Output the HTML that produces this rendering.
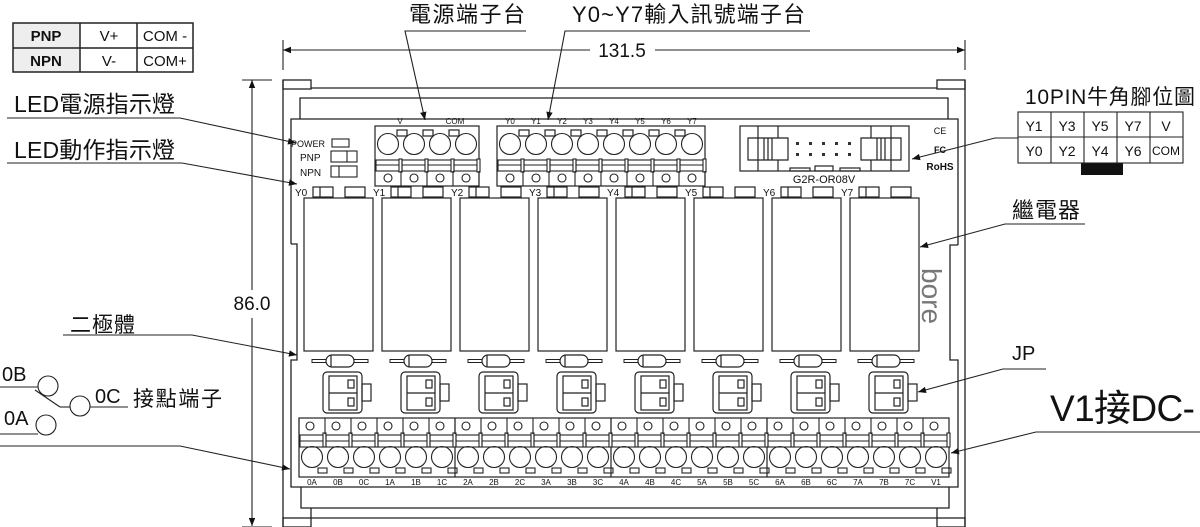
<!DOCTYPE html>
<html><head><meta charset="utf-8"><style>
html,body{margin:0;padding:0;background:#fff;}
svg{display:block;}
text{font-family:"Liberation Sans","Noto Sans CJK TC",sans-serif;fill:#111;}
</style></head><body>
<svg width="1200" height="527" viewBox="0 0 1200 527" xmlns="http://www.w3.org/2000/svg">
<defs>
<marker id="ar" viewBox="0 0 10 10" refX="10" refY="5" markerWidth="14" markerHeight="8" markerUnits="userSpaceOnUse" orient="auto"><path d="M0,1 L10,5 L0,9 z" fill="#111"/></marker>
<g id="col" fill="none" stroke="#222" stroke-width="1.2">
 <rect x="313" y="187" width="20" height="10"/><line x1="320" y1="187" x2="320" y2="197"/>
 <rect x="345" y="187" width="20" height="10"/>
 <rect x="304" y="198" width="69" height="153"/>
 <rect x="312" y="359.5" width="14" height="3" stroke-width="1"/>
 <rect x="354" y="359.5" width="14" height="3" stroke-width="1"/>
 <rect x="326" y="355" width="28" height="12" rx="6" fill="#fff"/>
 <line x1="331" y1="355" x2="331" y2="367"/>
 <rect x="323" y="372" width="39" height="41" rx="4"/>
 <rect x="329" y="376" width="28" height="34"/>
 <line x1="329" y1="393" x2="357" y2="393"/>
 <rect x="348" y="380" width="6" height="8"/><rect x="348" y="398" width="6" height="8"/>
 <rect x="362" y="384" width="9" height="17"/>
</g>
<g id="bc" fill="none" stroke="#222" stroke-width="1.1">
 <line x1="299" y1="418" x2="299" y2="434"/>
 <circle cx="310" cy="426" r="4"/>
 <rect x="300" y="435" width="24" height="12"/><line x1="300" y1="441" x2="324" y2="441"/>
 <rect x="323" y="433" width="3" height="14" fill="#fff"/>
 <circle cx="312" cy="457" r="10.5"/>
 <rect x="318" y="468" width="9" height="5"/>
</g>
<g id="tc" fill="none" stroke="#222" stroke-width="1.1">
 <circle cx="388" cy="144" r="10.5"/>
 <rect x="376" y="160" width="24" height="11"/><line x1="376" y1="165" x2="400" y2="165"/>
 <rect x="399" y="159" width="3" height="13" fill="#fff"/>
 <circle cx="388" cy="178" r="4"/>
 <line x1="401" y1="171" x2="401" y2="186"/>
</g>
</defs>

<!-- top-left table -->
<rect x="13" y="23" width="67" height="49" fill="#eee"/>
<g fill="none" stroke="#222" stroke-width="1.5">
<rect x="13" y="23" width="180" height="49"/>
<line x1="13" y1="48" x2="193" y2="48"/><line x1="80" y1="23" x2="80" y2="72"/><line x1="137" y1="23" x2="137" y2="72"/>
</g>
<g font-size="15">
<text x="46" y="41" text-anchor="middle" font-weight="bold">PNP</text>
<text x="46" y="66" text-anchor="middle" font-weight="bold">NPN</text>
<text x="109" y="41" text-anchor="middle">V+</text>
<text x="109" y="66" text-anchor="middle">V-</text>
<text x="165" y="41" text-anchor="middle">COM -</text>
<text x="165" y="66" text-anchor="middle">COM+</text>
</g>

<!-- dimensions -->
<g stroke="#222" stroke-width="1.1" fill="none">
<line x1="283" y1="40" x2="283" y2="70"/><line x1="965" y1="40" x2="965" y2="70"/>
<line x1="590" y1="50" x2="283" y2="50" marker-end="url(#ar)"/>
<line x1="655" y1="50" x2="965" y2="50" marker-end="url(#ar)"/>
<line x1="242" y1="80" x2="272" y2="80"/><line x1="242" y1="527" x2="272" y2="527"/>
<line x1="252" y1="290" x2="252" y2="80" marker-end="url(#ar)"/>
<line x1="252" y1="318" x2="252" y2="526" marker-end="url(#ar)"/>
</g>
<text x="622" y="57" font-size="19" text-anchor="middle">131.5</text>
<text x="252" y="310" font-size="19" text-anchor="middle">86.0</text>

<!-- housing -->
<g fill="none" stroke="#222" stroke-width="1.3">
<line x1="283" y1="80" x2="283" y2="527"/><line x1="965" y1="80" x2="965" y2="527"/>
<rect x="283" y="80" width="28" height="9"/><rect x="937" y="80" width="28" height="9"/>
<line x1="311" y1="88" x2="937" y2="88"/>
<polyline points="300,119 300,98 948,98 948,119"/>
<polyline points="291,244 291,119 958,119 958,245"/>
<polyline points="291,244 297,244 297,360 291,360 291,487 958,487 958,360 950,360 950,245 958,245"/>
<polyline points="301,487 301,508 949,508 949,487"/>
<polyline points="311,508 311,518 937,518 937,508"/>
<rect x="283" y="518" width="28" height="9"/><rect x="937" y="518" width="28" height="9"/>
</g>

<!-- indicator labels -->
<g font-size="10">
<text x="291" y="147" font-size="9">POWER</text>
<text x="300" y="161">PNP</text>
<text x="300" y="176">NPN</text>
</g>
<g fill="none" stroke="#222" stroke-width="1.1">
<rect x="332" y="139" width="17" height="8"/>
<rect x="331" y="151" width="26" height="11"/><line x1="347" y1="151" x2="347" y2="162"/>
<rect x="331" y="166" width="26" height="11"/><line x1="339" y1="166" x2="339" y2="177"/>
</g>

<!-- top terminal blocks -->
<g fill="none" stroke="#222" stroke-width="1.2">
<rect x="375" y="126" width="104" height="60"/>
<rect x="497" y="126" width="208" height="60"/>
<rect x="397" y="130" width="10" height="6"/><rect x="423" y="130" width="10" height="6"/><rect x="449" y="130" width="10" height="6"/>
<rect x="519" y="130" width="10" height="6"/><rect x="545" y="130" width="10" height="6"/><rect x="571" y="130" width="10" height="6"/><rect x="597" y="130" width="10" height="6"/><rect x="623" y="130" width="10" height="6"/><rect x="649" y="130" width="10" height="6"/><rect x="675" y="130" width="10" height="6"/>
</g>
<use href="#tc"/><use href="#tc" x="26"/><use href="#tc" x="52"/><use href="#tc" x="78"/>
<use href="#tc" x="122"/><use href="#tc" x="148"/><use href="#tc" x="174"/><use href="#tc" x="200"/><use href="#tc" x="226"/><use href="#tc" x="252"/><use href="#tc" x="278"/><use href="#tc" x="304"/>
<g font-size="8" text-anchor="middle">
<text x="400" y="124">V</text><text x="455" y="124">COM</text>
<text x="510" y="124">Y0</text><text x="536" y="124">Y1</text><text x="562" y="124">Y2</text><text x="588" y="124">Y3</text><text x="614" y="124">Y4</text><text x="640" y="124">Y5</text><text x="666" y="124">Y6</text><text x="692" y="124">Y7</text>
</g>

<!-- IDC connector -->
<g fill="none" stroke="#222" stroke-width="1.2">
<rect x="740" y="126" width="169" height="45"/>
<line x1="758" y1="126" x2="758" y2="171"/><line x1="778" y1="126" x2="778" y2="138"/><line x1="778" y1="160" x2="778" y2="171"/>
<path d="M748,138 H788 V160 H748 Z"/>
<line x1="764" y1="138" x2="764" y2="160"/><line x1="768" y1="138" x2="768" y2="160"/><line x1="772" y1="138" x2="772" y2="160"/>
<line x1="891" y1="126" x2="891" y2="171"/><line x1="871" y1="126" x2="871" y2="138"/><line x1="871" y1="160" x2="871" y2="171"/>
<path d="M861,138 H901 V160 H861 Z"/>
<line x1="877" y1="138" x2="877" y2="160"/><line x1="881" y1="138" x2="881" y2="160"/><line x1="885" y1="138" x2="885" y2="160"/>
<rect x="790" y="168" width="20" height="3"/><rect x="815" y="166" width="18" height="5"/><rect x="840" y="168" width="20" height="3"/>
</g>
<g fill="#333">
<rect x="796" y="142" width="3" height="3"/><rect x="809" y="142" width="3" height="3"/><rect x="822" y="142" width="3" height="3"/><rect x="835" y="142" width="3" height="3"/><rect x="848" y="142" width="3" height="3"/>
<rect x="796" y="153" width="3" height="3"/><rect x="809" y="153" width="3" height="3"/><rect x="822" y="153" width="3" height="3"/><rect x="835" y="153" width="3" height="3"/><rect x="848" y="153" width="3" height="3"/>
</g>
<text x="824" y="183" font-size="11" text-anchor="middle">G2R-OR08V</text>
<text x="940" y="134" font-size="9" text-anchor="middle">CE</text>
<text x="940" y="153" font-size="9" text-anchor="middle" font-weight="bold">FC</text>
<text x="940" y="170" font-size="10" text-anchor="middle" font-weight="bold">RoHS</text>

<!-- relay columns -->
<use href="#col"/><use href="#col" x="78"/><use href="#col" x="156"/><use href="#col" x="234"/><use href="#col" x="312"/><use href="#col" x="390"/><use href="#col" x="468"/><use href="#col" x="546"/>
<g font-size="10">
<text x="295" y="196">Y0</text><text x="373" y="196">Y1</text><text x="451" y="196">Y2</text><text x="529" y="196">Y3</text><text x="607" y="196">Y4</text><text x="685" y="196">Y5</text><text x="763" y="196">Y6</text><text x="841" y="196">Y7</text>
</g>
<text x="0" y="0" font-size="28" style="fill:#777" transform="translate(922,268) rotate(90)">bore</text>

<!-- bottom terminal block -->
<g fill="none" stroke="#222" stroke-width="1.2">
<rect x="299" y="418" width="650" height="59"/>
<line x1="455" y1="418" x2="455" y2="477"/><line x1="611" y1="418" x2="611" y2="477"/><line x1="767" y1="418" x2="767" y2="477"/>
</g>
<use href="#bc"/><use href="#bc" x="26"/><use href="#bc" x="52"/><use href="#bc" x="78"/><use href="#bc" x="104"/><use href="#bc" x="130"/><use href="#bc" x="156"/><use href="#bc" x="182"/><use href="#bc" x="208"/><use href="#bc" x="234"/><use href="#bc" x="260"/><use href="#bc" x="286"/><use href="#bc" x="312"/><use href="#bc" x="338"/><use href="#bc" x="364"/><use href="#bc" x="390"/><use href="#bc" x="416"/><use href="#bc" x="442"/><use href="#bc" x="468"/><use href="#bc" x="494"/><use href="#bc" x="520"/><use href="#bc" x="546"/><use href="#bc" x="572"/><use href="#bc" x="598"/><use href="#bc" x="624"/>
<g font-size="8" text-anchor="middle">
<text x="312" y="485">0A</text><text x="338" y="485">0B</text><text x="364" y="485">0C</text><text x="390" y="485">1A</text><text x="416" y="485">1B</text><text x="442" y="485">1C</text>
<text x="468" y="485">2A</text><text x="494" y="485">2B</text><text x="520" y="485">2C</text><text x="546" y="485">3A</text><text x="572" y="485">3B</text><text x="598" y="485">3C</text>
<text x="624" y="485">4A</text><text x="650" y="485">4B</text><text x="676" y="485">4C</text><text x="702" y="485">5A</text><text x="728" y="485">5B</text><text x="754" y="485">5C</text>
<text x="780" y="485">6A</text><text x="806" y="485">6B</text><text x="832" y="485">6C</text><text x="858" y="485">7A</text><text x="884" y="485">7B</text><text x="910" y="485">7C</text><text x="936" y="485">V1</text>
</g>

<!-- callouts -->
<g fill="none" stroke="#222" stroke-width="1.1">
<polyline points="526,31 405,31 425,120" marker-end="url(#ar)"/>
<polyline points="810,31 565,31 548,120" marker-end="url(#ar)"/>
<polyline points="7,118 180,118 296,143" marker-end="url(#ar)"/>
<polyline points="7,163 182,163 297,184" marker-end="url(#ar)"/>
<polyline points="63,335 192,335 297,355" marker-end="url(#ar)"/>
<polyline points="0,446 180,446 290,469" marker-end="url(#ar)"/>
<polyline points="1018,138 995,138 912,159" marker-end="url(#ar)"/>
<polyline points="1085,224 1005,224 920,247" marker-end="url(#ar)"/>
<polyline points="1046,369 1003,369 918,392" marker-end="url(#ar)"/>
<polyline points="1200,432 1036,432 951,453" marker-end="url(#ar)"/>
<line x1="0" y1="387" x2="38" y2="387"/><circle cx="48" cy="386" r="10"/>
<line x1="35" y1="390" x2="60" y2="407"/><line x1="60" y1="407" x2="70" y2="407"/>
<circle cx="80" cy="406" r="10"/><line x1="90" y1="407" x2="128" y2="407"/>
<circle cx="46" cy="425" r="10"/><line x1="0" y1="434" x2="38" y2="434"/>
</g>
<g font-size="21">
<text x="409" y="22" font-size="22" textLength="116">電源端子台</text>
<text x="572" y="22" font-size="22" textLength="233">Y0~Y7輸入訊號端子台</text>
<text x="14" y="112" font-size="23" textLength="161">LED電源指示燈</text>
<text x="14" y="158" font-size="23" textLength="161">LED動作指示燈</text>
<text x="70" y="332" font-size="21" textLength="65">二極體</text>
<text x="2" y="381" font-size="20">0B</text>
<text x="95" y="403" font-size="20">0C</text>
<text x="133" y="406" font-size="21" textLength="89">接點端子</text>
<text x="4" y="425" font-size="20">0A</text>
<text x="1025" y="104" font-size="21" textLength="170">10PIN牛角腳位圖</text>
<text x="1012" y="218" font-size="22" textLength="68">繼電器</text>
<text x="1012" y="360" font-size="20">JP</text>
<text x="1050" y="421" font-size="37" textLength="145">V1接DC-</text>
</g>

<!-- 10PIN table -->
<rect x="1081" y="163" width="42" height="12" fill="#111"/>
<g fill="none" stroke="#222" stroke-width="1.1">
<rect x="1018" y="112" width="165" height="51"/>
<line x1="1018" y1="137" x2="1183" y2="137"/>
<line x1="1051" y1="112" x2="1051" y2="163"/><line x1="1084" y1="112" x2="1084" y2="163"/><line x1="1117" y1="112" x2="1117" y2="163"/><line x1="1150" y1="112" x2="1150" y2="163"/>
</g>
<g font-size="14" text-anchor="middle">
<text x="1034" y="131">Y1</text><text x="1067" y="131">Y3</text><text x="1100" y="131">Y5</text><text x="1133" y="131">Y7</text><text x="1166" y="131">V</text>
<text x="1034" y="156">Y0</text><text x="1067" y="156">Y2</text><text x="1100" y="156">Y4</text><text x="1133" y="156">Y6</text><text x="1166" y="155" font-size="12">COM</text>
</g>
</svg>
</body></html>
